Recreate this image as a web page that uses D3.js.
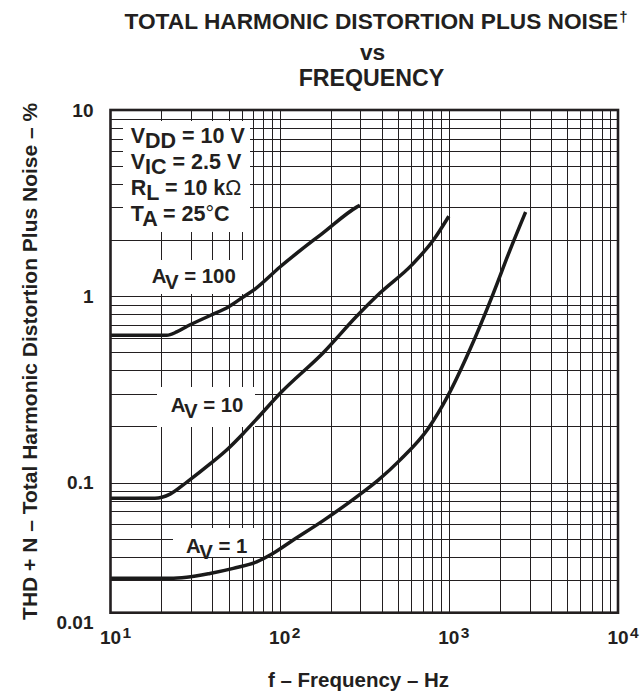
<!DOCTYPE html>
<html><head><meta charset="utf-8">
<script src="https://cdn.jsdelivr.net/npm/d3@7"></script>
<style>
body{margin:0;background:#fff}
svg{display:block}
text{font-family:"Liberation Sans",Arial,Helvetica,sans-serif;font-weight:bold;fill:#231f20}
</style>
</head><body><svg id="c" width="644" height="691"></svg>
<script>
// ---- data ----
const freqAv100 = [10, 21.5, 24.6, 28.4, 39.1, 49.7, 60.9, 72.1, 100.4, 182.8, 285, 298];
const thdAv100  = [0.618, 0.618, 0.643, 0.690, 0.791, 0.876, 0.991, 1.10, 1.436, 2.21, 3.01, 3.08];
const freqAv10  = [10, 18.3, 22.5, 28.4, 39.1, 49.7, 60.9, 72.1, 100.4, 182.8, 285, 391.5, 602.6, 808.8, 1000];
const thdAv10   = [0.0822, 0.0822, 0.0866, 0.1009, 0.1266, 0.1524, 0.1834, 0.2162, 0.3006, 0.5025, 0.781, 1.04, 1.47, 1.998, 2.69];
const freqAv1   = [10, 22.5, 28.2, 38.7, 53.2, 73.1, 91.6, 120.3, 182.7, 285, 382.5, 514, 755.5, 992, 1332, 1830, 2296, 2843];
const thdAv1    = [0.0306, 0.0306, 0.0310, 0.0325, 0.0346, 0.0375, 0.0417, 0.0491, 0.0628, 0.0838, 0.103, 0.1319, 0.1951, 0.2944, 0.5176, 1.034, 1.765, 2.833];

const xDomain = [10, 10000];
const yDomain = [0.02, 10];
const xTicks = [10, 100, 1000, 10000];
const xTickExp = ["1", "2", "3", "4"];
const yTicks = [0.02, 0.1, 1, 10];
const yTickLabels = ["0.01", "0.1", "1", "10"];

const titleLines = ["TOTAL HARMONIC DISTORTION PLUS NOISE", "vs", "FREQUENCY"];
const xTitle = "f \u2013 Frequency \u2013 Hz";
const yTitle = "THD + N \u2013 Total Harmonic Distortion Plus Noise \u2013 %";
const conditions = [["V", "DD", " = 10 V"], ["V", "IC", " = 2.5 V"], ["R", "L", " = 10 k\u03A9"], ["T", "A", " = 25\u00B0C"]];
const curveLabels = [["A", "V", " = 100"], ["A", "V", " = 10"], ["A", "V", " = 1"]];

// ---- layout ----
const L = 110.5, R = 618, T = 110, B = 612.7;
const ink = "#231f20";
const svg = d3.select("#c");
const x = d3.scaleLog().domain(xDomain).range([L, R]);
const y = d3.scaleLog().domain(yDomain).range([B, T]);
const crisp = v => Math.round(v) + 0.5;

// grid
const grid = svg.append("g").attr("stroke", ink).attr("stroke-width", 1);
x.ticks().filter(v => v > xDomain[0] && v < xDomain[1]).forEach(v => {
  grid.append("line").attr("x1", crisp(x(v))).attr("x2", crisp(x(v))).attr("y1", T).attr("y2", B);
});
y.ticks().filter(v => v > yDomain[0] && v < yDomain[1]).forEach(v => {
  grid.append("line").attr("y1", crisp(y(v))).attr("y2", crisp(y(v))).attr("x1", L).attr("x2", R);
});

// white label boxes
const boxes = [[123, 121, 127, 111], [140, 260, 110, 34], [157, 387, 98, 40], [173, 528, 89, 29]];
boxes.forEach(b => svg.append("rect").attr("x", b[0]).attr("y", b[1]).attr("width", b[2]).attr("height", b[3]).attr("fill", "#fff"));

// curves
const line = d3.line().x(d => x(d[0])).y(d => y(d[1])).curve(d3.curveMonotoneX);
[[freqAv100, thdAv100], [freqAv10, thdAv10], [freqAv1, thdAv1]].forEach(([f, v]) => {
  svg.append("path").attr("d", line(d3.zip(f, v))).attr("fill", "none")
    .attr("stroke", "#1a1a1a").attr("stroke-width", 3.5).attr("stroke-linejoin", "round").attr("stroke-linecap", "butt");
});

// frame
svg.append("rect").attr("x", L).attr("y", T).attr("width", R - L).attr("height", B - T)
  .attr("fill", "none").attr("stroke", ink).attr("stroke-width", 2.6);

// y tick labels
yTicks.forEach((t, i) => {
  svg.append("text").attr("x", 93.5).attr("y", y(t) + 6.8 + (i === 0 ? 9.5 : 0))
    .attr("text-anchor", "end").attr("font-size", 19).text(yTickLabels[i]);
});
// x tick labels
xTicks.forEach((t, i) => {
  const tx = svg.append("text").attr("x", x(t) - 10.6).attr("y", 644).attr("font-size", 19);
  tx.append("tspan").text("10");
  tx.append("tspan").attr("dx", 1.5).attr("dy", -6).attr("font-size", 15.5).text(xTickExp[i]);
});

// axis titles
svg.append("text").attr("x", 358.5).attr("y", 686.7).attr("text-anchor", "middle").attr("font-size", 20.5).text(xTitle);
svg.append("text").attr("transform", `translate(36.7,${(T + B) / 2}) rotate(-90)`)
  .attr("text-anchor", "middle").attr("font-size", 21).text(yTitle);

// title
const t1 = svg.append("text").attr("x", 124.5).attr("y", 29.3).attr("font-size", 22.7);
t1.append("tspan").text(titleLines[0]);
t1.append("tspan").attr("dx", 1).attr("dy", -7).attr("font-size", 15).text("\u2020");
svg.append("text").attr("x", 372.5).attr("y", 59.5).attr("text-anchor", "middle").attr("font-size", 22.7).text(titleLines[1]);
svg.append("text").attr("x", 371.5).attr("y", 85.8).attr("text-anchor", "middle").attr("font-size", 23.2).text(titleLines[2]);

// subscripted label helper
function subLabel(px, py, parts, size, shift) {
  const t = svg.append("text").attr("x", px).attr("y", py).attr("font-size", size);
  t.append("tspan").text(parts[0]);
  t.append("tspan").attr("dy", shift).text(parts[1]);
  const rest = parts[2];
  const m = rest.match(/^(.*?)([\u03A9\u00B0].*)?$/);
  t.append("tspan").attr("dy", -shift).text(m[1]);
  if (m[2]) {
    const sym = m[2][0];
    t.append("tspan").attr("font-weight", "normal").text(sym);
    if (m[2].length > 1) t.append("tspan").text(m[2].slice(1));
  }
}
const condBase = [143.3, 169, 195, 220.5];
conditions.forEach((c, i) => subLabel(130.7, condBase[i], c, 21.5, 5));

const labelPos = [[151.7, 283.3], [170.7, 412.3], [186, 553.3]];
curveLabels.forEach((c, i) => subLabel(labelPos[i][0], labelPos[i][1], c, 20.4, 5.7));
</script>
</body></html>
